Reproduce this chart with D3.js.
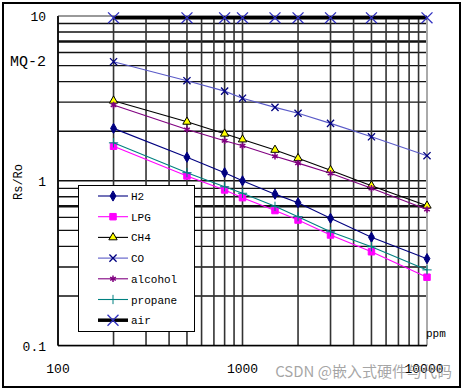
<!DOCTYPE html>
<html><head><meta charset="utf-8">
<script src="https://cdn.jsdelivr.net/npm/d3@7"></script>
<style>body{margin:0;background:#fff}svg{display:block}</style>
</head><body>
<script>
const ppm = [200, 500, 800, 1000, 1500, 2000, 3000, 5000, 10000];
const h2 = [2.08, 1.39, 1.12, 1.0, 0.83, 0.736, 0.592, 0.454, 0.337];
const lpg = [1.62, 1.07, 0.88, 0.79, 0.66, 0.578, 0.469, 0.371, 0.26];
const ch4 = [3.06, 2.28, 1.93, 1.78, 1.54, 1.37, 1.16, 0.934, 0.706];
const co = [5.28, 4.05, 3.5, 3.17, 2.79, 2.57, 2.23, 1.85, 1.42];
const alcohol = [2.88, 2.05, 1.75, 1.63, 1.41, 1.28, 1.11, 0.90, 0.67];
const propane = [1.70, 1.12, 0.92, 0.84, 0.70, 0.606, 0.49, 0.398, 0.288];
const air = [9.75, 9.75, 9.75, 9.75, 9.75, 9.75, 9.75, 9.75, 9.75];
const seriesNames = ["H2", "LPG", "CH4", "CO", "alcohol", "propane", "air"];
const xTickLabels = ["100", "1000", "10000"];
const yTickLabels = ["0.1", "1", "10"];

const W = 466, H = 391;
const svg = d3.select("body").append("svg").attr("width", W).attr("height", H);
svg.append("rect").attr("x", 3).attr("y", 3).attr("width", 457).attr("height", 384)
  .attr("fill", "#fff").attr("stroke", "#000").attr("stroke-width", 2);

const x = d3.scaleLog().domain([100, 10000]).range([58, 427]);
const y = d3.scaleLog().domain([0.1, 10]).range([345.6, 16]);

// grid
const xs = [];
for (let d = 100; d < 10000; d *= 10) for (let k = 1; k < 10; k++) xs.push(d * k);
const ys = [];
for (let d = 0.1; d < 9; d *= 10) for (let k = 1; k < 10; k++) ys.push(+(d * k).toFixed(3));
const g = svg.append("g");
g.selectAll(".hg").data(ys).join("line")
  .attr("x1", x(100)).attr("x2", x(10000)).attr("y1", d => y(d)).attr("y2", d => y(d))
  .attr("stroke", "#111").attr("stroke-width", d => (d === 7 || d === 0.7) ? 2.5 : 1.4);
g.selectAll(".vg").data(xs).join("line")
  .attr("y1", y(10)).attr("y2", y(0.1)).attr("x1", d => x(d)).attr("x2", d => x(d))
  .attr("stroke", "#333").attr("stroke-width", 1.6);
g.append("line").attr("x1", x(100)).attr("x2", x(10000)).attr("y1", y(10)).attr("y2", y(10))
  .attr("stroke", "#999").attr("stroke-width", 2);
g.append("line").attr("x1", x(10000)).attr("x2", x(10000)).attr("y1", y(10)).attr("y2", y(0.1))
  .attr("stroke", "#aaa").attr("stroke-width", 2);
g.append("line").attr("x1", x(100)).attr("x2", x(10000)).attr("y1", y(0.1)).attr("y2", y(0.1))
  .attr("stroke", "#000").attr("stroke-width", 1.5);
g.append("line").attr("x1", x(100)).attr("x2", x(100)).attr("y1", y(10)).attr("y2", y(0.1))
  .attr("stroke", "#000").attr("stroke-width", 1.5);

const series = [
  {name: seriesNames[0], v: h2, line: "#000080", sym: d3.symbolDiamond, size: 30, fill: "#000080", stroke: "#000080", sw: 1},
  {name: seriesNames[1], v: lpg, line: "#ff00ff", sym: d3.symbolSquare, size: 42, fill: "#ff00ff", stroke: "#ff00ff", sw: 1},
  {name: seriesNames[2], v: ch4, line: "#000000", sym: d3.symbolTriangle, size: 30, fill: "#ffff00", stroke: "#000", sw: 1},
  {name: seriesNames[3], v: co, line: "#5a5ac8", sym: d3.symbolX, size: 35, fill: "none", stroke: "#000080", sw: 1.3},
  {name: seriesNames[4], v: alcohol, line: "#800080", sym: d3.symbolAsterisk, size: 30, fill: "none", stroke: "#800080", sw: 1.5},
  {name: seriesNames[5], v: propane, line: "#008080", sym: d3.symbolPlus, size: 30, fill: "none", stroke: "#008080", sw: 1},
  {name: seriesNames[6], v: air, line: "#000000", sym: d3.symbolX, size: 80, fill: "none", stroke: "#3030c0", sw: 1.3, lw: 3.5}
];
const lineGen = d3.line().x(d => x(d[0])).y(d => y(d[1]));
series.forEach(s => {
  const pts = ppm.map((p, i) => [p, s.v[i]]);
  svg.append("path").attr("d", lineGen(pts)).attr("fill", "none")
    .attr("stroke", s.line).attr("stroke-width", s.lw || 1.1);
  svg.selectAll(null).data(pts).join("path")
    .attr("transform", d => `translate(${x(d[0])},${y(d[1])})`)
    .attr("d", d3.symbol().type(s.sym).size(s.size))
    .attr("fill", s.fill).attr("stroke", s.stroke).attr("stroke-width", s.sw);
});

// legend
const lg = svg.append("g");
lg.append("rect").attr("x", 78.5).attr("y", 185.5).attr("width", 116).attr("height", 146)
  .attr("fill", "#fff").attr("stroke", "#000").attr("stroke-width", 1);
series.forEach((s, i) => {
  const yy = 196 + i * 20.7;
  lg.append("line").attr("x1", 98).attr("x2", 128).attr("y1", yy).attr("y2", yy)
    .attr("stroke", s.line).attr("stroke-width", s.lw || 1.1);
  lg.append("path").attr("transform", `translate(113,${yy})`)
    .attr("d", d3.symbol().type(s.sym).size(s.size)).attr("fill", s.fill)
    .attr("stroke", s.stroke).attr("stroke-width", s.sw);
  lg.append("text").attr("x", 131).attr("y", yy + 4).text(s.name)
    .attr("font-family", "Liberation Mono, monospace").attr("font-size", 11).attr("fill", "#000");
});

// texts
const F = "Liberation Mono, monospace";
const t = (txt, xx, yy, size, anchor) => svg.append("text").attr("x", xx).attr("y", yy)
  .attr("font-family", F).attr("font-size", size).attr("text-anchor", anchor || "start").attr("fill", "#000").text(txt);
t(yTickLabels[2], 46, 21, 13, "end");
t(yTickLabels[1], 46, 186, 13, "end");
t(yTickLabels[0], 46, 351, 13, "end");
t(xTickLabels[0], x(100), 373, 13, "middle");
t(xTickLabels[1], x(1000), 373, 13, "middle");
t(xTickLabels[2], x(10000) - 3, 373, 13, "middle");
t("MQ-2", 10, 66, 15);
t("ppm", 426, 337, 11);
svg.append("text").attr("transform", "translate(22,182) rotate(-90)")
  .attr("font-family", F).attr("font-size", 12).attr("text-anchor", "middle").text("Rs/Ro");
svg.append("text").attr("x", 452).attr("y", 377).attr("text-anchor", "end")
  .attr("font-family", "Noto Sans CJK SC, sans-serif").attr("font-size", 15)
  .attr("fill", "#888").attr("fill-opacity", 0.75).text("CSDN @嵌入式硬件与代码");
</script>
</body></html>
